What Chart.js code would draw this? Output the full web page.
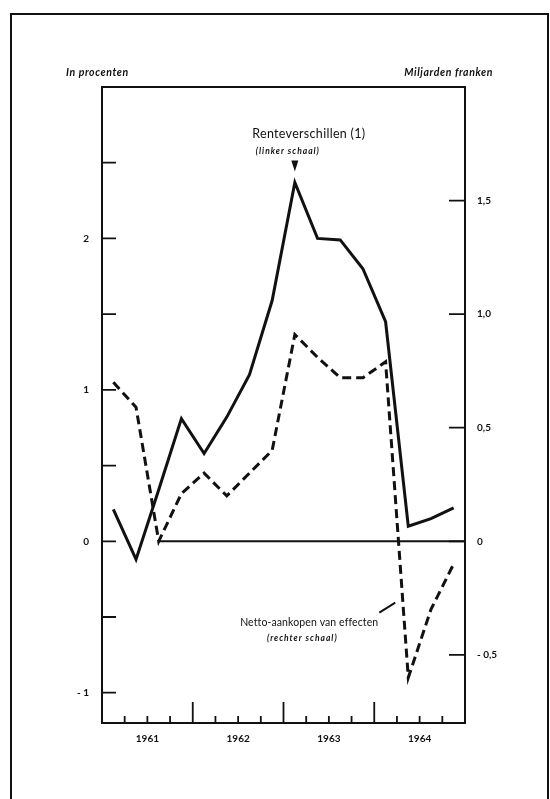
<!DOCTYPE html>
<html>
<head>
<meta charset="utf-8">
<script src="https://cdn.jsdelivr.net/npm/chart.js@4.4.1/dist/chart.umd.min.js"></script>
<style>
  html, body { margin: 0; padding: 0; background: #fff; }
  #wrap { width: 550px; height: 799px; }
</style>
</head>
<body>
<div id="wrap"><canvas id="chart" width="550" height="799"></canvas></div>
<script>
const years = [1961, 1962, 1963, 1964];
const quartersPerYear = 4;

// Renteverschillen (1) - linker schaal, in procenten (one value per quarter)
const rateSpread = [0.21, -0.12, 0.34, 0.81, 0.58, 0.82, 1.10, 1.59, 2.37, 2.00, 1.99, 1.80, 1.45, 0.10, 0.15, 0.22];
// Netto-aankopen van effecten - rechter schaal, miljarden franken
const netPurchases = [0.70, 0.59, 0.00, 0.21, 0.30, 0.20, 0.30, 0.40, 0.91, 0.81, 0.72, 0.72, 0.79, -0.60, -0.30, -0.10];

const leftTickValues = [-1, 0, 1, 2];
const leftTickLabels = ['- 1', '0', '1', '2'];
const rightTickValues = [-0.5, 0, 0.5, 1, 1.5];
const rightTickLabels = ['- 0,5', '0', '0,5', '1,0', '1,5'];

const leftRange = [-1.2, 3];
const rightRange = [-0.8, 2];

const Ink = '#111';
const FontFamily = 'Lato, "DejaVu Sans", sans-serif';

/**
 * ------------------------------------------------------------------------
 * 				HELPERS
 * ------------------------------------------------------------------------
 */

// x position of a quarter = middle of that quarter
const quarterX = (index) => years[0] + (index + 0.5) / quartersPerYear;
const toPoints = (values) => values.map((y, i) => ({ x: quarterX(i), y }));
const isHalfStep = (v) => Math.abs(v * 2 - Math.round(v * 2)) < 1e-6;
const labelFor = (values, labels, v) => {
	const i = values.findIndex(t => Math.abs(t - v) < 1e-6);
	return i < 0 ? '' : labels[i];
};

const xMin = years[0];
const xMax = years[years.length - 1] + 1;

// zero line starts where the purchases series first touches zero
const zeroStart = netPurchases.findIndex(v => v === 0);
const zeroLine = [{ x: quarterX(zeroStart), y: 0 }, { x: xMax, y: 0 }];

const drawText = (ctx, text, x, y, font, align, spacing) => {
	ctx.font = font;
	ctx.textAlign = align;
	ctx.textBaseline = 'middle';
	ctx.letterSpacing = spacing || '0px';
	ctx.fillText(text, x, y);
	ctx.letterSpacing = '0px';
};

const chartDecor = {
	id: 'chartDecor',
	beforeDraw(chart) {
		const ctx = chart.ctx;
		ctx.save();
		ctx.fillStyle = '#fff';
		ctx.fillRect(0, 0, chart.width, chart.height);
		// page frame
		ctx.strokeStyle = Ink;
		ctx.lineWidth = 2;
		ctx.beginPath();
		ctx.moveTo(11, chart.height + 5);
		ctx.lineTo(11, 14);
		ctx.lineTo(548, 14);
		ctx.lineTo(548, chart.height + 5);
		ctx.stroke();
		ctx.restore();
	},
	afterDraw(chart) {
		const { ctx, chartArea: a, scales } = chart;
		ctx.save();
		ctx.strokeStyle = Ink;
		ctx.fillStyle = Ink;
		ctx.lineWidth = 2;
		ctx.strokeRect(a.left, a.top, a.width, a.height);

		// inward ticks
		ctx.lineWidth = 1.8;
		ctx.beginPath();
		scales.yL.ticks.forEach(({ value }) => {
			if (!isHalfStep(value) || value <= leftRange[0] || value >= leftRange[1]) return;
			const y = scales.yL.getPixelForValue(value);
			ctx.moveTo(a.left, y); ctx.lineTo(a.left + 14, y);
		});
		scales.yR.ticks.forEach(({ value }) => {
			if (!isHalfStep(value) || value <= rightRange[0] || value >= rightRange[1]) return;
			const y = scales.yR.getPixelForValue(value);
			ctx.moveTo(a.right, y); ctx.lineTo(a.right - 16, y);
		});
		scales.x.ticks.forEach(({ value }) => {
			if (value <= xMin || value >= xMax) return;
			const x = scales.x.getPixelForValue(value);
			const len = Number.isInteger(value) ? 21 : 7;
			ctx.moveTo(x, a.bottom); ctx.lineTo(x, a.bottom - len);
		});
		ctx.stroke();

		// axis titles
		drawText(ctx, 'In procenten', 66, 73, 'italic bold 10.5px ' + FontFamily, 'left', '0.6px');
		drawText(ctx, 'Miljarden franken', 493, 73, 'italic bold 10.5px ' + FontFamily, 'right', '0.6px');

		// Renteverschillen annotation above the peak
		const peak = rateSpread.indexOf(Math.max(...rateSpread));
		const px = scales.x.getPixelForValue(quarterX(peak));
		const py = scales.yL.getPixelForValue(rateSpread[peak]);
		ctx.beginPath();
		ctx.moveTo(px - 3.5, py - 22);
		ctx.lineTo(px + 3.5, py - 22);
		ctx.lineTo(px, py - 11);
		ctx.closePath();
		ctx.fill();
		drawText(ctx, 'Renteverschillen (1)', px + 14, py - 48, '12.5px ' + FontFamily, 'center', '0.3px');
		drawText(ctx, '(linker schaal)', px - 7, py - 31, 'italic bold 8.5px ' + FontFamily, 'center', '1px');

		// Netto-aankopen annotation left of the trough
		const low = netPurchases.indexOf(Math.min(...netPurchases));
		const lx = scales.x.getPixelForValue(quarterX(low));
		const ly = scales.yR.getPixelForValue(netPurchases[low]);
		drawText(ctx, 'Netto-aankopen van effecten', lx - 30, ly - 55, '10.5px ' + FontFamily, 'right', '0.1px');
		drawText(ctx, '(rechter schaal)', lx - 106, ly - 39, 'italic bold 8.5px ' + FontFamily, 'center', '1px');
		ctx.lineWidth = 2;
		ctx.beginPath();
		ctx.moveTo(lx - 29, ly - 65);
		ctx.lineTo(lx - 13, ly - 75);
		ctx.stroke();
		ctx.restore();
	}
};

/**
 * ------------------------------------------------------------------------
 * 				CHART
 * ------------------------------------------------------------------------
 */

const tickFont = { family: FontFamily, size: 10, weight: 'bold' };

new Chart(document.getElementById('chart').getContext('2d'), {
	type: 'line',
	data: {
		datasets: [
			{
				label: 'nul',
				data: zeroLine,
				yAxisID: 'yR',
				borderColor: Ink,
				borderWidth: 2,
				pointRadius: 0
			},
			{
				label: 'Renteverschillen (1)',
				data: toPoints(rateSpread),
				yAxisID: 'yL',
				borderColor: Ink,
				borderWidth: 3,
				pointRadius: 0,
				tension: 0
			},
			{
				label: 'Netto-aankopen van effecten',
				data: toPoints(netPurchases),
				yAxisID: 'yR',
				borderColor: Ink,
				borderWidth: 3,
				borderDash: [9, 5],
				pointRadius: 0,
				tension: 0
			}
		]
	},
	options: {
		responsive: false,
		animation: false,
		layout: { padding: { top: 87, left: 0, right: 0, bottom: 0 } },
		plugins: { legend: { display: false }, tooltip: { enabled: false } },
		scales: {
			x: {
				type: 'linear',
				min: xMin,
				max: xMax,
				grid: { display: false, drawTicks: false },
				border: { display: false },
				afterFit: (scale) => { scale.height = 76; },
				ticks: {
					stepSize: 1 / quartersPerYear,
					autoSkip: false,
					maxRotation: 0,
					padding: 10,
					color: Ink,
					font: tickFont,
					callback: (v) => (v - Math.floor(v) === 0.5 && years.includes(Math.floor(v))) ? String(Math.floor(v)) : ''
				}
			},
			yL: {
				type: 'linear',
				position: 'left',
				min: leftRange[0],
				max: leftRange[1],
				grid: { display: false, drawTicks: false },
				border: { display: false },
				afterFit: (scale) => { scale.width = 102; },
				ticks: {
					stepSize: 0.5,
					padding: 13,
					color: Ink,
					font: tickFont,
					callback: (v) => labelFor(leftTickValues, leftTickLabels, v)
				}
			},
			yR: {
				type: 'linear',
				position: 'right',
				min: rightRange[0],
				max: rightRange[1],
				grid: { display: false, drawTicks: false },
				border: { display: false },
				afterFit: (scale) => { scale.width = 85; },
				ticks: {
					stepSize: 0.5,
					padding: 12,
					color: Ink,
					font: tickFont,
					callback: (v) => labelFor(rightTickValues, rightTickLabels, v)
				}
			}
		}
	},
	plugins: [chartDecor]
});
</script>
</body>
</html>
